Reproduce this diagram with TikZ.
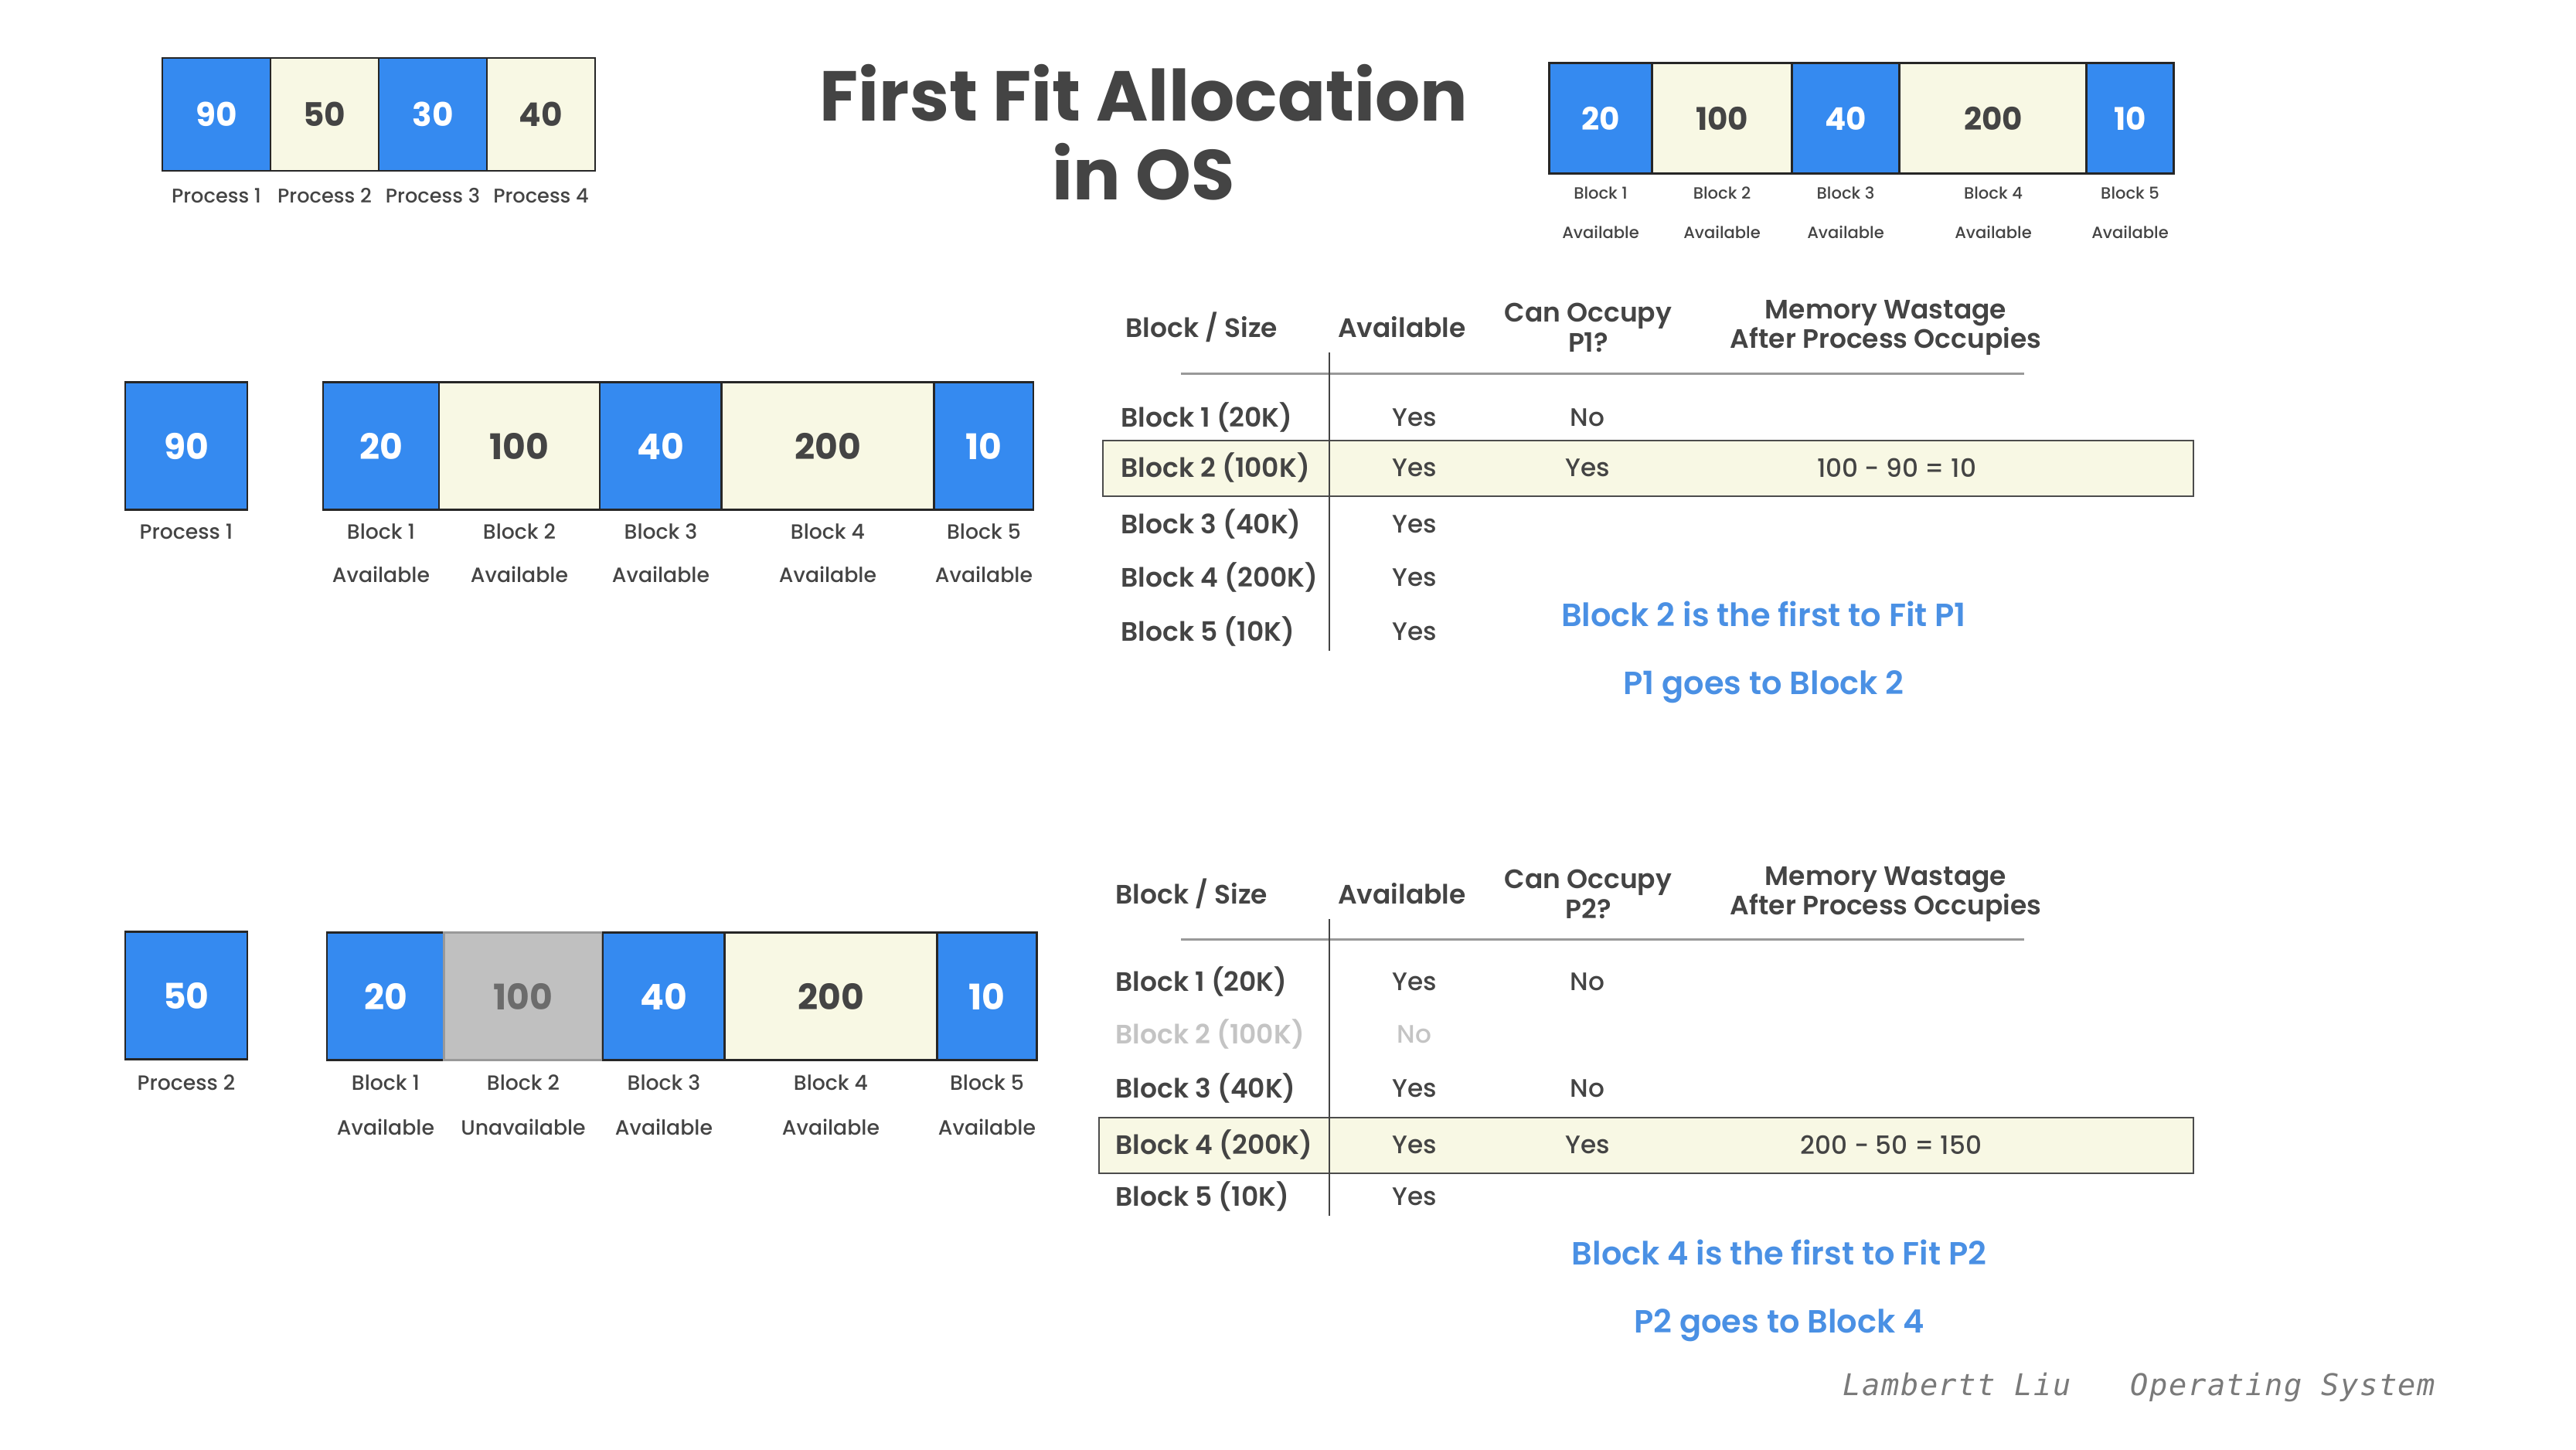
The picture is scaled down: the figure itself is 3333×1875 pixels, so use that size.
\documentclass[tikz,border=0pt]{standalone}
\usepackage{fontspec}
\setmainfont{Poppins Medium}[BoldFont={Poppins SemiBold}]
\newfontfamily\heavy{Poppins Bold}
\newfontfamily\monofoot{DejaVu Sans Mono Oblique}[LetterSpace=4]
\definecolor{cellblue}{RGB}{53,138,240}
\definecolor{cellcream}{RGB}{248,248,228}
\definecolor{cellgray}{RGB}{192,192,192}
\definecolor{textdark}{RGB}{68,68,68}
\definecolor{hintblue}{RGB}{74,144,228}
\definecolor{fadegray}{RGB}{196,196,196}
\definecolor{footgray}{RGB}{122,122,122}
\begin{document}
\begin{tikzpicture}[x=0.01cm,y=-0.01cm,
  cell/.style={draw=black!85,line width=0.22mm,inner sep=0pt},
  bluecell/.style={cell,fill=cellblue,text=white},
  creamcell/.style={cell,fill=cellcream,text=textdark},
  graycell/.style={cell,fill=cellgray,draw=gray!80,text=gray!85!black},
  numtop/.style={font=\heavy\fontsize{12pt}{12pt}\selectfont},
  numright/.style={font=\heavy\fontsize{11.5pt}{11.5pt}\selectfont},
  numrow/.style={font=\heavy\fontsize{13pt}{13pt}\selectfont},
  lbltop/.style={text=textdark,inner sep=0pt,font=\fontsize{7.3pt}{8pt}\selectfont},
  lblright/.style={text=textdark,inner sep=0pt,font=\fontsize{6pt}{7pt}\selectfont},
  lblrow/.style={text=textdark,inner sep=0pt,font=\fontsize{7.6pt}{8pt}\selectfont},
  tblhead/.style={text=textdark,inner sep=0pt,align=center,font=\bfseries\fontsize{9.8pt}{11pt}\selectfont},
  tblname/.style={text=textdark,inner sep=0pt,anchor=west,font=\bfseries\fontsize{9.8pt}{11pt}\selectfont},
  tblcell/.style={text=textdark,inner sep=0pt,font=\fontsize{9.3pt}{11pt}\selectfont},
  hint/.style={text=hintblue,inner sep=0pt,font=\bfseries\fontsize{11.8pt}{13pt}\selectfont},
  rowbox/.style={fill=cellcream,draw=black!70,line width=0.22mm},
  headrule/.style={draw=gray!80,line width=0.3mm},
  colrule/.style={draw=textdark,line width=0.12mm},
  foot/.style={text=footgray,inner sep=0pt,anchor=base west,font=\monofoot\fontsize{11pt}{12pt}\selectfont}]
\useasboundingbox[fill=white] (0,0) rectangle (3333,1875);

\node[text=textdark,align=center,font=\heavy\fontsize{26pt}{29pt}\selectfont] (title) at (1480,171) {First Fit Allocation\\in OS};

\foreach \xa/\xb/\v/\s [count=\i] in {210/350/90/bluecell,350/490/50/creamcell,490/630/30/bluecell,630/770/40/creamcell}
{\pgfmathtruncatemacro{\cx}{(\xa+\xb)/2}
\node[\s,numtop,minimum width={(\xb-\xa)*0.1mm},minimum height=14.6mm] (pr\i) at (\cx,148) {\v};
\node[lbltop] (prl\i) at (\cx,253) {Process \i};
}

\foreach \xa/\xb/\v/\s [count=\i] in {2005/2138/20/bluecell,2138/2319/100/creamcell,2319/2458/40/bluecell,2458/2700/200/creamcell,2700/2813/10/bluecell}
{\pgfmathtruncatemacro{\cx}{(\xa+\xb)/2}
\node[\s,numright,minimum width={(\xb-\xa)*0.1mm},minimum height=14.3mm] (tb\i) at (\cx,153) {\v};
\node[lblright] (tbl\i) at (\cx,250) {Block \i};
\node[lblright] (tba\i) at (\cx,300) {Available};
}

\node[bluecell,numrow,minimum width=15.8mm,minimum height=16.5mm] (pa) at (241,577) {90};
\node[lblrow] (pal) at (241,688) {Process 1};
\foreach \xa/\xb/\v/\s [count=\i] in {418/568/20/bluecell,568/776/100/creamcell,776/934/40/bluecell,934/1209/200/creamcell,1209/1337/10/bluecell}
{\pgfmathtruncatemacro{\cx}{(\xa+\xb)/2}
\node[\s,numrow,minimum width={(\xb-\xa)*0.1mm},minimum height=16.5mm] (ab\i) at (\cx,577) {\v};
\node[lblrow] (abl\i) at (\cx,688) {Block \i};
\node[lblrow] (aba\i) at (\cx,743) {Available};
}

\node[bluecell,numrow,minimum width=15.8mm,minimum height=16.5mm] (pb) at (241,1288) {50};
\node[lblrow] (pbl) at (241,1401) {Process 2};
\foreach \xa/\xb/\v/\s/\st [count=\i] in {423/575/20/bluecell/Available,575/780/100/graycell/Unavailable,780/938/40/bluecell/Available,938/1213/200/creamcell/Available,1213/1342/10/bluecell/Available}
{\pgfmathtruncatemacro{\cx}{(\xa+\xb)/2}
\node[\s,numrow,minimum width={(\xb-\xa)*0.1mm},minimum height=16.5mm] (bb\i) at (\cx,1289) {\v};
\node[lblrow] (bbl\i) at (\cx,1401) {Block \i};
\node[lblrow] (bba\i) at (\cx,1458) {\st};
}

\draw[rowbox] (1427,570) rectangle (2838,642);
\draw[headrule] (1528,483) -- (2619,483);
\draw[colrule] (1720,456) -- (1720,842);
\node[tblhead,anchor=west] (ha1) at (1456,423) {Block / Size};
\node[tblhead] (ha2) at (1814,423) {Available};
\node[tblhead] (ha3) at (2055,424) {Can Occupy\\P1?};
\node[tblhead] (ha4) at (2440,424) {Memory Wastage\\After Process Occupies};
\foreach \nm/\yy [count=\i] in {Block 1 (20K)/540,Block 2 (100K)/605,Block 3 (40K)/678,Block 4 (200K)/747,Block 5 (10K)/817}
{\node[tblname] (ra\i) at (1450,\yy) {\nm};
\node[tblcell] (rav\i) at (1830,\yy) {Yes};
}
\node[tblcell] (rao1) at (2054,540) {No};
\node[tblcell] (rao2) at (2054,605) {Yes};
\node[tblcell] (raw2) at (2454,605) {100 - 90 = 10};
\node[hint] (hinta1) at (2282,794) {Block 2 is the first to Fit P1};
\node[hint] (hinta2) at (2282,889) {P1 goes to Block 2};

\draw[rowbox] (1422,1446) rectangle (2838,1518);
\draw[headrule] (1528,1215) -- (2619,1215);
\draw[colrule] (1720,1189) -- (1720,1573);
\node[tblhead,anchor=west] (hb1) at (1443,1156) {Block / Size};
\node[tblhead] (hb2) at (1814,1156) {Available};
\node[tblhead] (hb3) at (2055,1157) {Can Occupy\\P2?};
\node[tblhead] (hb4) at (2440,1157) {Memory Wastage\\After Process Occupies};
\foreach \nm/\av/\yy/\c [count=\i] in {Block 1 (20K)/Yes/1270/textdark,Block 2 (100K)/No/1338/fadegray,Block 3 (40K)/Yes/1408/textdark,Block 4 (200K)/Yes/1481/textdark,Block 5 (10K)/Yes/1548/textdark}
{\node[tblname,text=\c] (rb\i) at (1443,\yy) {\nm};
\node[tblcell,text=\c] (rbv\i) at (1830,\yy) {\av};
}
\node[tblcell] (rbo1) at (2054,1270) {No};
\node[tblcell] (rbo3) at (2054,1408) {No};
\node[tblcell] (rbo4) at (2054,1481) {Yes};
\node[tblcell] (rbw4) at (2447,1481) {200 - 50 = 150};
\node[hint] (hintb1) at (2302,1620) {Block 4 is the first to Fit P2};
\node[hint] (hintb2) at (2302,1715) {P2 goes to Block 4};

\node[foot] (author) at (2384,1805) {Lambertt Liu};
\node[foot] (course) at (2756,1805) {Operating System};
\end{tikzpicture}
\end{document}
